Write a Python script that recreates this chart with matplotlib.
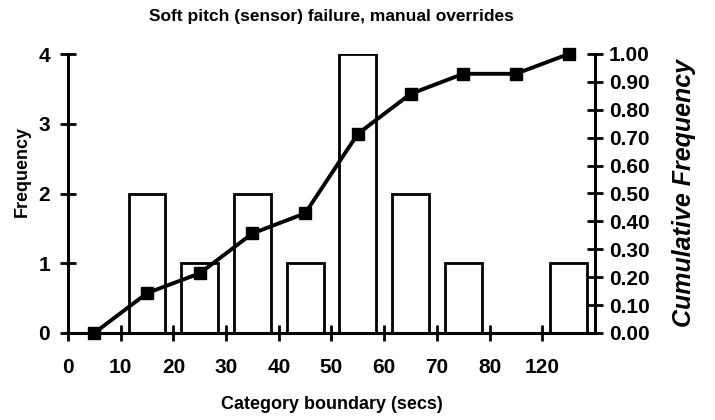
import matplotlib
matplotlib.use("Agg")
import matplotlib.pyplot as plt
import numpy as np

# category boundaries (tick labels) and counts per category
boundaries = ['0', '10', '20', '30', '40', '50', '60', '70', '80', '120']
counts = [0, 2, 1, 2, 1, 4, 2, 1, 0, 1]
cumulative = [0.0, 0.143, 0.214, 0.357, 0.429, 0.714, 0.857, 0.929, 0.929, 1.0]

plt.rcParams['font.family'] = ['Liberation Sans', 'DejaVu Sans']
plt.rcParams['font.weight'] = 'bold'

fig = plt.figure(figsize=(7.15, 4.2), dpi=100)
ax = fig.add_axes([68 / 715, 1 - 333 / 420, (595 - 68) / 715, (333 - 54) / 420])

pos = np.arange(len(counts)) + 0.5
ax.bar(pos, counts, width=0.7, color='white', edgecolor='black', linewidth=2, zorder=2)

ax.set_xlim(0, len(counts))
ax.set_ylim(0, 4)
ax.set_xticks(np.arange(len(boundaries)))
ax.set_xticklabels(boundaries)
ax.set_yticks([0, 1, 2, 3, 4])

for s in ['left', 'bottom']:
    ax.spines[s].set_linewidth(2.2)
ax.spines['top'].set_visible(False)
ax.spines['right'].set_visible(False)
ax.tick_params(axis='both', direction='inout', length=12, width=2, labelsize=15)
ax.tick_params(axis='x', pad=12)
ax.tick_params(axis='y', pad=7)
ax.set_ylabel('Frequency', fontsize=13, fontweight='bold')
ax.yaxis.set_label_coords(-0.071, 0.58)
ax.set_xlabel('Category boundary (secs)', fontsize=13, fontweight='bold', labelpad=14)
ax.set_title('Soft pitch (sensor) failure, manual overrides', fontsize=12.5,
             fontweight='bold', pad=24)

ax2 = ax.twinx()
ax2.plot(pos, cumulative, color='black', linewidth=2.8, marker='s', markersize=8,
         zorder=3, clip_on=False)
ax2.set_ylim(0, 1)
ax2.set_yticks(np.arange(0, 1.01, 0.1))
ax2.set_yticklabels([f'{v:.2f}' for v in np.arange(0, 1.01, 0.1)])
for s in ['left', 'bottom', 'top']:
    ax2.spines[s].set_visible(False)
ax2.spines['right'].set_linewidth(2.2)
ax2.tick_params(axis='y', direction='inout', length=12, width=2, labelsize=15, pad=4)
ax2.set_ylabel('Cumulative Frequency', fontsize=18, fontweight='bold',
               fontstyle='italic', labelpad=16)

fig.savefig('out.png', dpi=100)
